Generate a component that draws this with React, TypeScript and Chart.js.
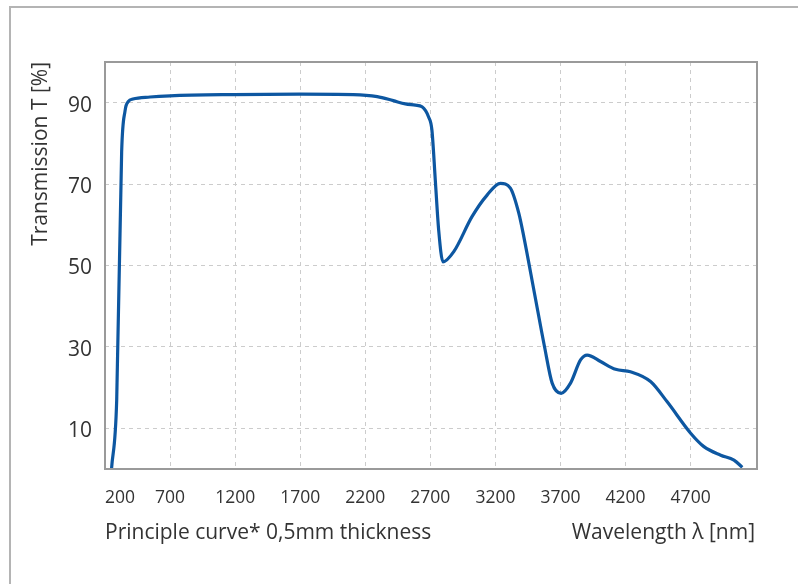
import { useEffect, useRef } from "react";
import { Chart, registerables } from "chart.js";

Chart.register(...registerables);

// Wavelength (nm) and transmission (%)
const wavelengths = [250, 290, 328, 354, 380, 415, 546, 700, 1185, 1700, 2108, 2292, 2415, 2508, 2585, 2636, 2685, 2712, 2738, 2764, 2797, 2880, 3020, 3136, 3238, 3315, 3380, 3418, 3500, 3577, 3636, 3705, 3777, 3854, 3905, 4008, 4123, 4238, 4392, 4520, 4700, 4802, 4931, 5033, 5097];
const transmission = [0, 17, 78, 88, 90.3, 90.9, 91.4, 91.7, 92.0, 92.1, 92.0, 91.5, 90.5, 89.7, 89.4, 89.0, 86.6, 83.3, 71.0, 58.7, 50.9, 53.4, 62.0, 67.3, 70.2, 69.0, 62.8, 57.1, 43.2, 30.1, 21.1, 18.6, 21.1, 26.8, 28.0, 26.4, 24.5, 23.9, 21.5, 16.5, 8.8, 5.5, 3.4, 2.2, 0.4];

const xTickLabels = [200, 700, 1200, 1700, 2200, 2700, 3200, 3700, 4200, 4700];
const yTickLabels = [10, 30, 50, 70, 90];
const yTitle = "Transmission T [%]";
const xTitle = "Wavelength λ [nm]";
const noteText = "Principle curve* 0,5mm thickness";

const FONT = '"Open Sans", "Noto Sans", sans-serif';
const TEXT = "#333333";

export default function App() {
  const ref = useRef<HTMLCanvasElement>(null);

  useEffect(() => {
    const canvas = ref.current;
    if (!canvas) return;

    const decor = {
      id: "decor",
      beforeDraw(chart: any) {
        const ctx = chart.ctx;
        ctx.save();
        ctx.strokeStyle = "#b4b4b4";
        ctx.lineWidth = 2;
        ctx.beginPath();
        ctx.moveTo(10, 600);
        ctx.lineTo(10, 7);
        ctx.lineTo(800, 7);
        ctx.stroke();
        ctx.restore();
      },
      afterDraw(chart: any) {
        const ctx = chart.ctx;
        const a = chart.chartArea;
        const xs = chart.scales.x;
        ctx.save();
        // plot border
        ctx.strokeStyle = "#9a9a9a";
        ctx.lineWidth = 2;
        ctx.strokeRect(a.left, a.top, a.right - a.left, a.bottom - a.top);
        // x tick labels
        ctx.fillStyle = TEXT;
        ctx.font = `17.5px ${FONT}`;
        ctx.textBaseline = "middle";
        xTickLabels.forEach((v, i) => {
          const px = xs.getPixelForValue(v);
          ctx.textAlign = i === 0 ? "left" : "center";
          ctx.fillText(String(v), px, 498);
        });
        // bottom texts
        ctx.font = `21px ${FONT}`;
        ctx.textAlign = "left";
        ctx.fillText(noteText, a.left, 533);
        ctx.textAlign = "right";
        ctx.fillText(xTitle, a.right - 2, 533);
        // y title
        ctx.translate(41, a.top);
        ctx.rotate(-Math.PI / 2);
        ctx.textAlign = "right";
        ctx.textBaseline = "middle";
        ctx.font = `21px ${FONT}`;
        ctx.fillText(yTitle, 0, 0);
        ctx.restore();
      },
    };

    const chart = new Chart(canvas, {
      type: "line",
      data: {
        datasets: [
          {
            data: wavelengths.map((w, i) => ({ x: w, y: transmission[i] })),
            borderColor: "#0d57a1",
            borderWidth: 3.2,
            pointRadius: 0,
            fill: false,
            cubicInterpolationMode: "monotone",
          },
        ],
      },
      options: {
        responsive: false,
        animation: false,
        layout: { padding: { top: 62, right: 41, bottom: 0, left: 0 } },
        plugins: {
          legend: { display: false },
          tooltip: { enabled: false },
          title: { display: false },
        },
        scales: {
          x: {
            type: "linear",
            min: 200,
            max: 5210,
            afterBuildTicks: (s: any) => {
              s.ticks = xTickLabels.map((v) => ({ value: v }));
            },
            afterFit: (s: any) => {
              s.height = 115;
            },
            ticks: { display: false },
            grid: { color: "#cccccc", lineWidth: 1, drawTicks: false },
            border: { display: false, dash: [4, 4] },
          },
          y: {
            min: 0,
            max: 100,
            afterBuildTicks: (s: any) => {
              s.ticks = yTickLabels.map((v) => ({ value: v }));
            },
            afterFit: (s: any) => {
              s.width = 105;
            },
            ticks: {
              color: TEXT,
              padding: 13,
              labelOffset: 3,
              font: { family: FONT, size: 21 },
            },
            grid: { color: "#cccccc", lineWidth: 1, drawTicks: false },
            border: { display: false, dash: [4, 4] },
          },
        },
      },
      plugins: [decor],
    } as any);

    return () => chart.destroy();
  }, []);

  return (
    <canvas
      ref={ref}
      width={798}
      height={584}
      style={{ position: "absolute", left: 0, top: 0, display: "block", background: "#ffffff" }}
    />
  );
}
